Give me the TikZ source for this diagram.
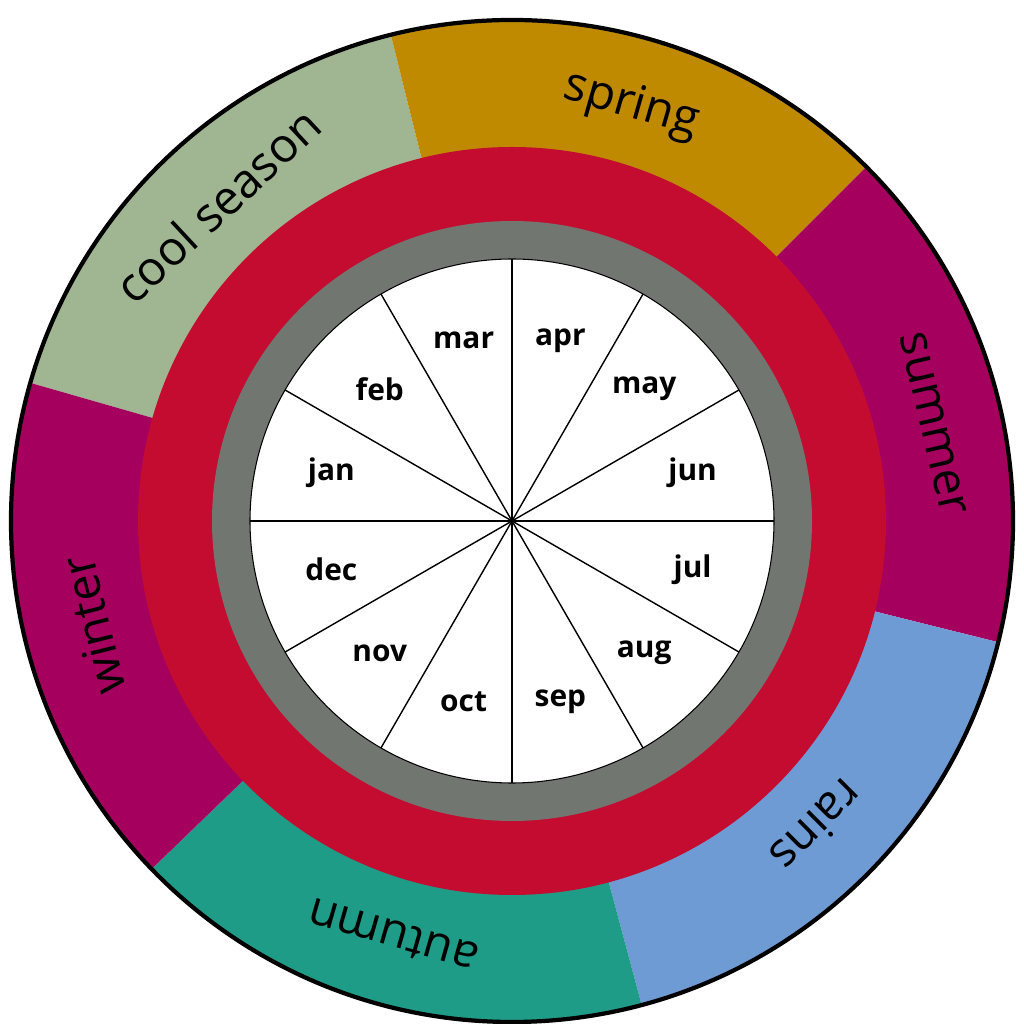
\documentclass[tikz,border=0pt]{standalone}
\usepackage{fontspec}
\setmainfont{Open Sans}
\usetikzlibrary{calc}
\begin{document}
\begin{tikzpicture}[x=0.01cm,y=0.01cm,
  season/.style={font=\fontsize{13.5}{13.5}\selectfont},
  month/.style={font=\bfseries\fontsize{8.5}{9}\selectfont}]
\useasboundingbox (0,0) rectangle (1024,1024);
\coordinate (c) at (512,503);
\definecolor{cool}{HTML}{A0B592}
\definecolor{spr}{HTML}{C08A00}
\definecolor{sum}{HTML}{A6005F}
\definecolor{rain}{HTML}{6F9BD4}
\definecolor{aut}{HTML}{1E9C87}
\definecolor{redr}{HTML}{C40C30}
\definecolor{grayr}{HTML}{727670}
\foreach \a/\b/\col in {104/164/cool,45/104/spr,-14/45/sum,-75/-14/rain,-136/-75/aut,164/224/sum}{
  \fill[\col] (c) -- ++(\a:502) arc[start angle=\a,end angle=\b,radius=502] -- cycle;
}
\draw[line width=1.2pt] (c) circle[radius=501];
\fill[redr] (c) circle[radius=374];
\fill[grayr] (c) circle[radius=300];
\fill[white] (c) circle[radius=262];
\draw[line width=0.3pt] (c) circle[radius=262];
\foreach \a in {0,30,...,330}{ \draw[line width=0.4pt] (c) -- ++(\a:262); }
\foreach \m [count=\i] in {jan,feb,mar,apr,may,jun,jul,aug,sep,oct,nov,dec}{
  \pgfmathsetmacro{\ang}{165-30*(\i-1)}
  \node[month] (m\i) at ($(c)+(\ang:187)$) {\m};
}
\foreach \t/\a [count=\i] in {spring/74,cool season/133,summer/13,winter/194,autumn/254,rains/-45}{
  \pgfmathsetmacro{\rot}{\a-90}
  \node[season,rotate=\rot] (s\i) at ($(c)+(\a:432)$) {\t};
}
\end{tikzpicture}
\end{document}
